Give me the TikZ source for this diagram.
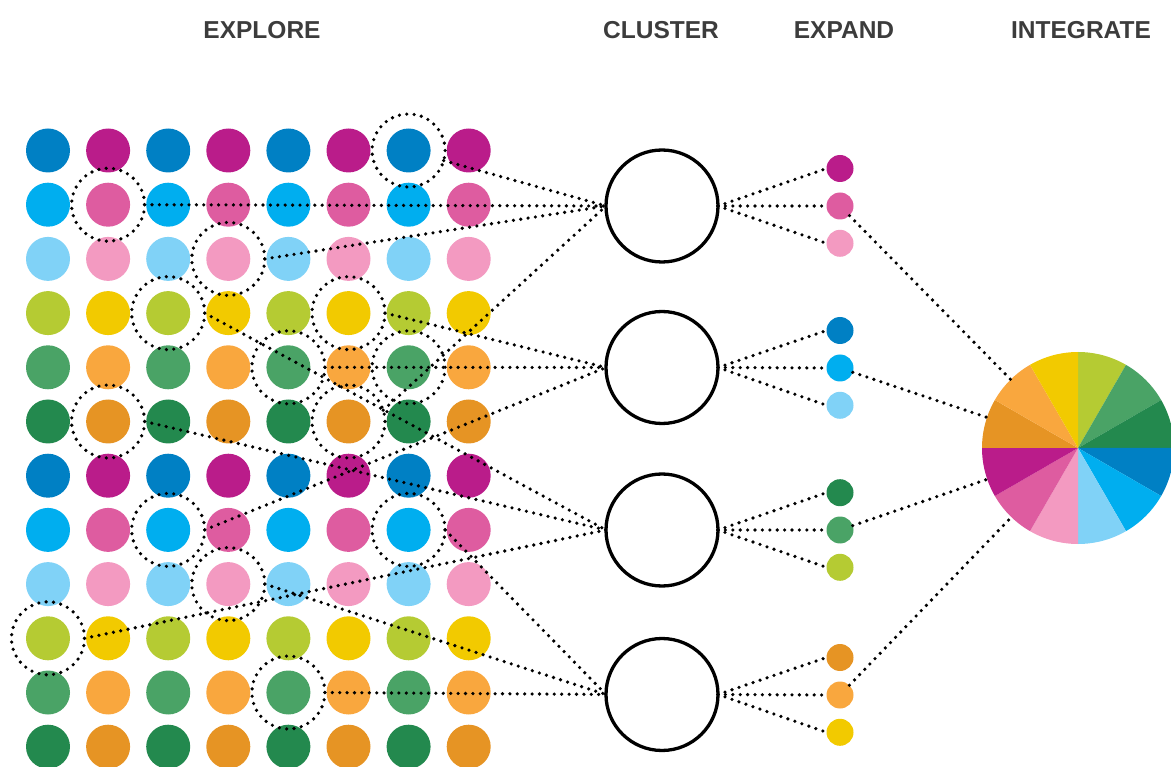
\documentclass[tikz,border=0pt]{standalone}
\usepackage{fontspec}
\setmainfont{Liberation Sans}
\definecolor{cA1}{HTML}{0080C4}
\definecolor{cB1}{HTML}{BA1C8A}
\definecolor{cA2}{HTML}{00AEEF}
\definecolor{cB2}{HTML}{DE5CA0}
\definecolor{cA3}{HTML}{80D2F7}
\definecolor{cB3}{HTML}{F39AC1}
\definecolor{cA4}{HTML}{B5CB33}
\definecolor{cB4}{HTML}{F2CA00}
\definecolor{cA5}{HTML}{4AA366}
\definecolor{cB5}{HTML}{F9A73E}
\definecolor{cA6}{HTML}{23894E}
\definecolor{cB6}{HTML}{E69424}
\definecolor{titlegray}{HTML}{3C3C3C}
\begin{document}
\begin{tikzpicture}[x=1pt,y=-1pt,
  dotline/.style={line width=3.6pt,dash pattern=on 0pt off 7.4pt,line cap=round},
  dotnode/.style={circle,inner sep=0pt,outer sep=0pt,minimum size=44pt},
  smalldot/.style={circle,inner sep=0pt,outer sep=0pt,minimum size=27pt},
  ring/.style={circle,inner sep=0pt,outer sep=0pt,minimum size=73pt,draw=black,dotline},
  cluster/.style={circle,draw=black,line width=3.3pt,inner sep=0pt,outer sep=0pt,minimum size=112pt},
  title/.style={font=\fontsize{24.5}{29}\selectfont\bfseries,text=titlegray,anchor=base,inner sep=0pt}
]
\useasboundingbox (0,0) rectangle (1171,767);

% titles
\node[title] (t1) at (262,38.3) {EXPLORE};
\node[title] (t2) at (661,38.3) {CLUSTER};
\node[title] (t3) at (844,38.3) {EXPAND};
\node[title] (t4) at (1081,38.3) {INTEGRATE};

% grid of dots
\foreach \r in {1,...,12}{
  \pgfmathtruncatemacro\k{mod(\r-1,6)+1}
  \foreach \c in {1,...,8}{
    \pgfmathtruncatemacro\odd{mod(\c,2)}
    \ifnum\odd=1 \def\cl{cA\k}\else\def\cl{cB\k}\fi
    \node[dotnode,fill=\cl] (d-\r-\c) at ({48+60.1*(\c-1)},{150.5+54.2*(\r-1)}) {};
  }
}

% clusters
\node[cluster] (c1) at (662,206) {};
\node[cluster] (c2) at (662,367.5) {};
\node[cluster] (c3) at (662,530) {};
\node[cluster] (c4) at (662,694.5) {};

% expand dots
\node[smalldot,fill=cB1] (e1a) at (840,168.5) {};
\node[smalldot,fill=cB2] (e1b) at (840,206) {};
\node[smalldot,fill=cB3] (e1c) at (840,243.3) {};
\node[smalldot,fill=cA1] (e2a) at (840,330.5) {};
\node[smalldot,fill=cA2] (e2b) at (840,368) {};
\node[smalldot,fill=cA3] (e2c) at (840,405.3) {};
\node[smalldot,fill=cA6] (e3a) at (840,492.7) {};
\node[smalldot,fill=cA5] (e3b) at (840,530) {};
\node[smalldot,fill=cA4] (e3c) at (840,567.3) {};
\node[smalldot,fill=cB6] (e4a) at (840,657.5) {};
\node[smalldot,fill=cB5] (e4b) at (840,695) {};
\node[smalldot,fill=cB4] (e4c) at (840,732.3) {};

% pie
\node[circle,minimum size=192pt,inner sep=0pt,outer sep=0pt] (pie) at (1078,448) {};
\foreach \col [count=\i from 0] in {cA4,cA5,cA6,cA1,cA2,cA3,cB3,cB2,cB1,cB6,cB5,cB4}{
  \fill[\col] (pie.center) -- ++({30*\i-90}:96) arc[start angle={30*\i-90}, end angle={30*\i-60}, radius=96] -- cycle;
}

% rings
\foreach \r/\c in {1/7,2/2,3/4,4/3,4/6,5/5,5/7,6/2,6/6,8/3,8/7,9/4,10/1,11/5}{
  \node[ring] (ring-\r-\c) at (d-\r-\c.center) {};
}

% grid -> clusters
\draw[dotline] (ring-1-7.-16) -- (c1.west);
\draw[dotline] (ring-2-2.east) -- (c1.west);
\draw[dotline] (ring-3-4.east) -- (c1.west);
\draw[dotline] (ring-6-6.18) -- (c1.west);
\draw[dotline] (ring-4-6.east) -- (c2.west);
\draw[dotline] (ring-5-5.east) -- (c2.west);
\draw[dotline] (ring-8-3.east) -- (c2.west);
\draw[dotline] (ring-4-3.east) -- (c3.west);
\draw[dotline] (ring-6-2.east) -- (c3.west);
\draw[dotline] (ring-10-1.east) -- (c3.west);
\draw[dotline] (ring-8-7.east) -- (c4.west);
\draw[dotline] (ring-9-4.east) -- (c4.west);
\draw[dotline] (ring-11-5.east) -- (c4.west);

% clusters -> expand
\foreach \n in {1,...,4}{
  \foreach \s in {a,b,c}{
    \draw[dotline] (c\n.east) -- (e\n\s.west);
  }
}

% expand -> pie
\draw[dotline] (e1b) -- (pie);
\draw[dotline] (e2b) -- (pie);
\draw[dotline] (e3b) -- (pie);
\draw[dotline] (e4b) -- (pie);
\end{tikzpicture}
\end{document}
